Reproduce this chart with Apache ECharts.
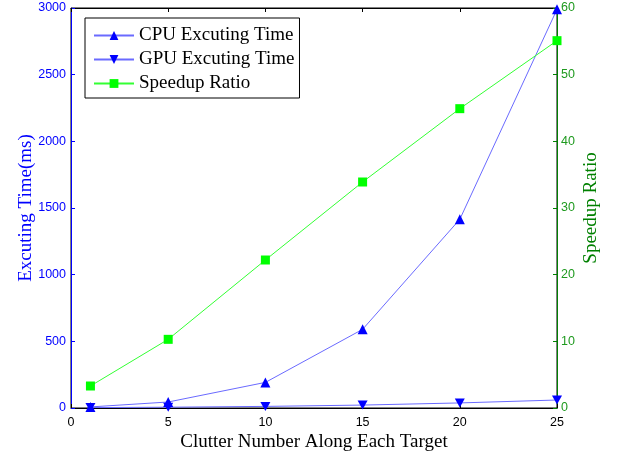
<!DOCTYPE html>
<html style="height: 100%">
    <head>
        <title>Excuting Time and Speedup Ratio</title>
        <script type="text/javascript" src="https://fastly.jsdelivr.net/npm/echarts@6.0.0/dist/echarts.min.js"></script>
    </head>
    <body style="height: 100%; margin: 0; background: #fff">
        <div id="target" style="width: 620px; height: 452px"></div>
<script>
// data
let clutterNum = [1, 5, 10, 15, 20, 25];
let cpuTime = [8, 45, 192, 590, 1415, 2990];
let gpuTime = [3, 6, 12, 22, 38, 60];
let speedup = [3.3, 10.3, 22.2, 33.9, 44.9, 55.1];
let seriesNames = ["CPU Excuting Time", "GPU Excuting Time", "Speedup Ratio"];

let xTicks = [0, 25, 5];
let timeTicks = [0, 3000, 500];
let ratioTicks = [0, 60, 10];

let pair = (ys) => clutterNum.map((x, i) => [x, ys[i]]);

let serif = "Liberation Serif";
let sans = "Liberation Sans";
let blue = "#0000ff";
let green = "#008000";
let plain = (v) => String(v);

let chart = echarts.init(document.getElementById('target'));

// one legend per row so the rows sit as tight as in the picture;
// the first one also draws the box round all three
let legendRow = (i) => ({
    orient: "vertical",
    left: 85,
    top: [18, 45, 69][i],
    padding: i == 0 ? [3, 6, 48, 8] : [0, 6, 0, 8],
    itemWidth: 40,
    itemHeight: 11,
    borderColor: i == 0 ? "#000" : "transparent",
    borderWidth: i == 0 ? 1 : 0,
    backgroundColor: i == 0 ? "#fff" : "transparent",
    data: [seriesNames[i]],
    textStyle: { fontFamily: serif, fontSize: 19, color: "#000" },
});

let option = {
    animation: false,
    grid: {
        left: 71,
        right: 63,
        top: 8,
        bottom: 44,
        outerBoundsMode: "none",
        show: true,
        borderColor: "#000",
        borderWidth: 1,
    },
    legend: [legendRow(0), legendRow(1), legendRow(2)],
    xAxis: [
        {
            type: "value",
            min: xTicks[0],
            max: xTicks[1],
            interval: xTicks[2],
            name: "Clutter Number Along Each Target",
            nameLocation: "middle",
            nameGap: 20,
            nameMoveOverlap: false,
            nameTextStyle: { fontFamily: serif, fontSize: 19, color: "#000" },
            axisLine: { onZero: false, lineStyle: { color: "#000" } },
            axisTick: { inside: true, length: 4, lineStyle: { color: "#000" } },
            axisLabel: { fontFamily: sans, fontSize: 12.5, color: "#000", margin: 4, formatter: plain },
            splitLine: { show: false },
        },
        {
            type: "value",
            position: "top",
            min: xTicks[0],
            max: xTicks[1],
            interval: xTicks[2],
            axisLine: { onZero: false, lineStyle: { color: "#000" } },
            axisTick: { inside: true, length: 4, lineStyle: { color: "#000" } },
            axisLabel: { show: false },
            splitLine: { show: false },
        },
    ],
    yAxis: [
        {
            type: "value",
            min: timeTicks[0],
            max: timeTicks[1],
            interval: timeTicks[2],
            name: "Excuting Time(ms)",
            nameLocation: "middle",
            nameRotate: 90,
            nameGap: 30,
            nameMoveOverlap: false,
            nameTextStyle: { fontFamily: serif, fontSize: 19, color: blue },
            axisLine: { show: true, onZero: false, lineStyle: { color: blue } },
            axisTick: { show: true, inside: true, length: 4, lineStyle: { color: blue } },
            axisLabel: { fontFamily: sans, fontSize: 12.5, color: blue, margin: 5, formatter: plain },
            splitLine: { show: false },
        },
        {
            type: "value",
            position: "right",
            min: ratioTicks[0],
            max: ratioTicks[1],
            interval: ratioTicks[2],
            name: "Speedup Ratio",
            nameLocation: "middle",
            nameRotate: 90,
            nameGap: 20,
            nameMoveOverlap: false,
            nameTextStyle: { fontFamily: serif, fontSize: 19, color: green },
            axisLine: { show: true, onZero: false, lineStyle: { color: green } },
            axisTick: { show: true, inside: true, length: 4, lineStyle: { color: green } },
            axisLabel: { fontFamily: sans, fontSize: 12.5, color: "#1f9a1f", margin: 4, formatter: plain },
            splitLine: { show: false },
        },
    ],
    series: [
        {
            name: seriesNames[0],
            type: "line",
            yAxisIndex: 0,
            data: pair(cpuTime),
            symbol: "triangle",
            symbolSize: 10,
            showAllSymbol: true,
            lineStyle: { color: "#6a6aff", width: 1 },
            itemStyle: { color: blue },
        },
        {
            name: seriesNames[1],
            type: "line",
            yAxisIndex: 0,
            data: pair(gpuTime),
            symbol: "path://M0,0 L10,0 L5,9 Z",
            symbolSize: [10, 9],
            showAllSymbol: true,
            lineStyle: { color: "#6a6aff", width: 1 },
            itemStyle: { color: blue },
        },
        {
            name: seriesNames[2],
            type: "line",
            yAxisIndex: 1,
            data: pair(speedup),
            symbol: "rect",
            symbolSize: 9,
            showAllSymbol: true,
            lineStyle: { color: "#33ff33", width: 1 },
            itemStyle: { color: "#00ff00" },
        },
    ],
};

chart.setOption(option);
</script>
    </body>
</html>
